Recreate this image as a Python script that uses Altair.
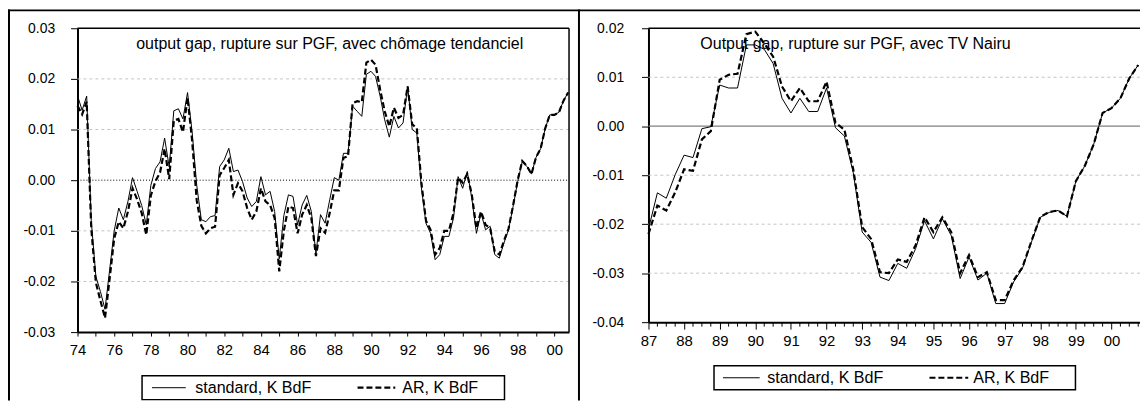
import altair as alt
import pandas as pd

# ---------------- data ----------------
SERIES = ["standard, K BdF", "AR, K BdF"]
LEFT_NOTE = "output gap, rupture sur PGF, avec chômage tendanciel"
RIGHT_NOTE = "Output gap, rupture sur PGF, avec TV Nairu"

LEFT_START = 1974.0   # quarterly, 1974Q1 .. 2000Q4
LEFT_STANDARD = [
    0.0167, 0.0138, 0.0166, -0.0080, -0.0190, -0.0220, -0.0255, -0.0178,
    -0.0100, -0.0055, -0.0078, -0.0042, 0.0005, -0.0022, -0.0050, -0.0088,
    -0.0010, 0.0023, 0.0036, 0.0083, 0.0026, 0.0137, 0.0141, 0.0121,
    0.0173, 0.0095, -0.0010, -0.0078, -0.0082, -0.0072, -0.0070, 0.0027,
    0.0040, 0.0063, 0.0017, 0.0020, -0.0003, -0.0035, -0.0052, -0.0042,
    0.0007, -0.0029, -0.0022, -0.0062, -0.0155, -0.0070, -0.0029, -0.0032,
    -0.0088, -0.0049, -0.0030, -0.0062, -0.0145, -0.0068, -0.0085, -0.0039,
    0.0005, 0.0000, 0.0053, 0.0053, 0.0146, 0.0136, 0.0126, 0.0209,
    0.0215, 0.0205, 0.0166, 0.0119, 0.0085, 0.0126, 0.0103, 0.0113,
    0.0185, 0.0100, 0.0093, -0.0015, -0.0085, -0.0105, -0.0157, -0.0147,
    -0.0111, -0.0111, -0.0075, 0.0007, -0.0016, 0.0017, -0.0036, -0.0105,
    -0.0065, -0.0098, -0.0091, -0.0147, -0.0154, -0.0124, -0.0098, -0.0052,
    -0.0003, 0.0037, 0.0027, 0.0012, 0.0045, 0.0062, 0.0102, 0.0129,
    0.0129, 0.0134, 0.0157, 0.0173,
]
LEFT_AR = [
    0.0147, 0.0130, 0.0155, -0.0095, -0.0202, -0.0238, -0.0272, -0.0195,
    -0.0115, -0.0082, -0.0095, -0.0062, -0.0016, -0.0038, -0.0065, -0.0108,
    -0.0030, -0.0002, 0.0015, 0.0062, 0.0002, 0.0118, 0.0121, 0.0095,
    0.0163, 0.0078, -0.0040, -0.0090, -0.0105, -0.0095, -0.0092, 0.0010,
    0.0024, 0.0040, -0.0029, -0.0006, -0.0022, -0.0055, -0.0078, -0.0062,
    -0.0016, -0.0042, -0.0049, -0.0075, -0.0180, -0.0100, -0.0052, -0.0055,
    -0.0105, -0.0068, -0.0049, -0.0075, -0.0150, -0.0095, -0.0104, -0.0065,
    -0.0020, -0.0020, 0.0044, 0.0047, 0.0152, 0.0156, 0.0154, 0.0232,
    0.0238, 0.0228, 0.0179, 0.0136, 0.0106, 0.0143, 0.0123, 0.0129,
    0.0185, 0.0110, 0.0103, -0.0005, -0.0080, -0.0098, -0.0147, -0.0134,
    -0.0100, -0.0100, -0.0065, 0.0005, -0.0005, 0.0012, -0.0029, -0.0095,
    -0.0062, -0.0088, -0.0095, -0.0141, -0.0147, -0.0120, -0.0096, -0.0050,
    0.0000, 0.0038, 0.0028, 0.0012, 0.0045, 0.0062, 0.0102, 0.0129,
    0.0129, 0.0134, 0.0157, 0.0173,
]

RIGHT_START = 1987.0  # quarterly, 1987Q1 .. 2000Q4
RIGHT_STANDARD = [
    -0.0210, -0.0136, -0.0147, -0.0099, -0.0059, -0.0064, -0.0005, -0.0001,
    0.0084, 0.0078, 0.0078, 0.0166, 0.0166, 0.0157, 0.0128, 0.0057,
    0.0027, 0.0057, 0.0030, 0.0030, 0.0078, -0.0003, -0.0020, -0.0095,
    -0.0216, -0.0237, -0.0308, -0.0315, -0.0280, -0.0290, -0.0250, -0.0193,
    -0.0230, -0.0189, -0.0223, -0.0311, -0.0267, -0.0314, -0.0300, -0.0362,
    -0.0362, -0.0318, -0.0290, -0.0237, -0.0186, -0.0176, -0.0172, -0.0184,
    -0.0112, -0.0081, -0.0037, 0.0027, 0.0037, 0.0057, 0.0098, 0.0125,
]
RIGHT_AR = [
    -0.0220, -0.0162, -0.0172, -0.0135, -0.0088, -0.0091, -0.0027, -0.0010,
    0.0095, 0.0105, 0.0107, 0.0188, 0.0193, 0.0169, 0.0142, 0.0081,
    0.0051, 0.0078, 0.0051, 0.0051, 0.0091, 0.0007, -0.0007, -0.0088,
    -0.0206, -0.0230, -0.0298, -0.0300, -0.0272, -0.0277, -0.0243, -0.0186,
    -0.0216, -0.0186, -0.0216, -0.0300, -0.0263, -0.0308, -0.0298, -0.0355,
    -0.0355, -0.0315, -0.0288, -0.0235, -0.0185, -0.0175, -0.0172, -0.0184,
    -0.0112, -0.0081, -0.0037, 0.0027, 0.0037, 0.0057, 0.0098, 0.0125,
]

LEFT_Y_TICKS = [-0.03, -0.02, -0.01, 0.0, 0.01, 0.02, 0.03]
RIGHT_Y_TICKS = [-0.04, -0.03, -0.02, -0.01, 0.0, 0.01, 0.02]
LEFT_YEARS = list(range(1974, 2001))
RIGHT_YEARS = list(range(1987, 2001))

# ---------------- layout / style ----------------
FONT = "Liberation Sans"
W, H = 1140, 394
YTICK_FS = 14
XTICK_FS = 15
NOTE_FS = 16.1
LEG_FS = 16.2

Y_LABEL = "(datum.value < 0 ? '-' : '') + format(abs(datum.value), '.2f')"


def series_df(vals, start):
    return pd.DataFrame({"t": [start + i / 4 for i in range(len(vals))], "v": vals})


def panel(std, ar, start, xdom, x0, x1, ydom, yticks, ytop, ybot, years,
          xlabel_expr, xtick, xpad, ypad, zero_style, note, note_x, minor):
    xs = alt.Scale(domain=xdom, range=[x0, x1], nice=False, zero=False)
    ys = alt.Scale(domain=ydom, range=[ybot, ytop], nice=False, zero=False)

    xaxis = alt.Axis(values=years, orient="bottom", offset=ybot - H, format="d",
                     labelExpr=xlabel_expr, labelFont=FONT, labelFontSize=XTICK_FS,
                     labelColor="black", labelPadding=xpad, labelOverlap=False,
                     labelFlush=False, tickSize=xtick, tickColor="black", tickWidth=1,
                     domainColor="black", domainWidth=2, grid=False, title=None)
    yaxis = alt.Axis(values=yticks, orient="left", offset=-x0, labelExpr=Y_LABEL,
                     labelFont=FONT, labelFontSize=YTICK_FS, labelColor="black",
                     labelPadding=ypad, labelOverlap=False, labelFlush=False,
                     tickSize=7, tickColor="black", tickWidth=1, domainColor="black",
                     domainWidth=2, grid=False, title=None)

    gridvals = [v for v in yticks if v not in (min(yticks), max(yticks), 0.0)]
    grid = alt.Chart(pd.DataFrame({"g": gridvals})).mark_rule(
        color="#c4c4c4", strokeDash=[3, 3], strokeWidth=1
    ).encode(y=alt.Y("g:Q", scale=ys, axis=None), x=alt.value(x0), x2=alt.value(x1))

    zero = alt.Chart(pd.DataFrame({"z": [0.0]})).mark_rule(**zero_style).encode(
        y=alt.Y("z:Q", scale=ys, axis=None), x=alt.value(x0), x2=alt.value(x1))

    top = alt.Chart().mark_rule(color="black", strokeWidth=1.5).encode(
        x=alt.value(x0), x2=alt.value(x1), y=alt.value(ytop))

    line_std = alt.Chart(series_df(std, start)).mark_line(
        color="black", strokeWidth=1
    ).encode(x=alt.X("t:Q", scale=xs, axis=xaxis), y=alt.Y("v:Q", scale=ys, axis=yaxis))

    line_ar = alt.Chart(series_df(ar, start)).mark_line(
        color="black", strokeWidth=2.2, strokeDash=[6, 3]
    ).encode(x=alt.X("t:Q", scale=xs, axis=None), y=alt.Y("v:Q", scale=ys, axis=None))

    text = alt.Chart().mark_text(
        text=note, font=FONT, fontSize=NOTE_FS, align="center", baseline="middle",
        color="black"
    ).encode(x=alt.value(note_x), y=alt.value(ytop + 15.5))

    layers = [grid, zero, top, line_std, line_ar, text]
    if minor:
        qs = [y + q / 4 for y in years for q in (1, 2, 3) if y + q / 4 < xdom[1]]
        mt = alt.Chart(pd.DataFrame({"m": qs})).mark_rule(color="black", strokeWidth=1).encode(
            x=alt.X("m:Q", scale=xs, axis=None), y=alt.value(ybot), y2=alt.value(ybot + 4.5))
        layers.append(mt)
    else:
        right = alt.Chart().mark_rule(color="black", strokeWidth=1.5).encode(
            x=alt.value(x1), y=alt.value(ytop), y2=alt.value(ybot))
        layers.append(right)
    return layers


def legend(bx0, bx1, by0, by1, s1x, t1x, s2x, t2x):
    yc = (by0 + by1) / 2
    box = alt.Chart().mark_rect(fill="white", stroke="black", strokeWidth=1.5).encode(
        x=alt.value(bx0), x2=alt.value(bx1), y=alt.value(by0), y2=alt.value(by1))
    s1 = alt.Chart().mark_rule(color="black", strokeWidth=1).encode(
        x=alt.value(s1x[0]), x2=alt.value(s1x[1]), y=alt.value(yc))
    s2 = alt.Chart().mark_rule(color="black", strokeWidth=2.2, strokeDash=[6, 3]).encode(
        x=alt.value(s2x[0]), x2=alt.value(s2x[1]), y=alt.value(yc))
    l1 = alt.Chart().mark_text(text=SERIES[0], font=FONT, fontSize=LEG_FS, align="left",
                               baseline="middle", color="black").encode(
        x=alt.value(t1x), y=alt.value(yc + 0.5))
    l2 = alt.Chart().mark_text(text=SERIES[1], font=FONT, fontSize=LEG_FS, align="left",
                               baseline="middle", color="black").encode(
        x=alt.value(t2x), y=alt.value(yc + 0.5))
    return [box, s1, s2, l1, l2]


left = panel(LEFT_STANDARD, LEFT_AR, LEFT_START, [1974.0, 2000.8], 70, 565,
             [-0.03, 0.03], LEFT_Y_TICKS, 19, 325, LEFT_YEARS,
             "datum.value % 2 == 0 ? slice(datum.label, 2) : ''", 4, 7, 16,
             dict(color="black", strokeDash=[1, 2], strokeWidth=1),
             LEFT_NOTE, 324, minor=False)

right = panel(RIGHT_STANDARD, RIGHT_AR, RIGHT_START, [1987.0, 2000.8], 645, 1140,
              [-0.04, 0.02], RIGHT_Y_TICKS, 19, 315, RIGHT_YEARS,
              "slice(datum.label, 2)", 7, 4, 18,
              dict(color="#808080", strokeWidth=1.3),
              RIGHT_NOTE, 853.5, minor=True)

frame = [
    alt.Chart().mark_rule(color="black", strokeWidth=2).encode(
        x=alt.value(0), x2=alt.value(W), y=alt.value(1)),
    alt.Chart().mark_rule(color="black", strokeWidth=2).encode(
        x=alt.value(1), y=alt.value(0), y2=alt.value(H)),
    alt.Chart().mark_rule(color="black", strokeWidth=2).encode(
        x=alt.value(575), y=alt.value(0), y2=alt.value(H)),
]

deco = frame + legend(135, 500, 369, 393, (145, 179), 188.5, (352, 390), 397) \
    + legend(711, 1075, 359, 383, (720, 757), 764.5, (928, 967), 972)

chart = alt.layer(*left, *right, *deco).resolve_scale(
    x="independent", y="independent"
).resolve_axis(
    x="independent", y="independent"
).properties(
    width=W, height=H, autosize=alt.AutoSizeParams(type="none"), padding=0
).configure_view(stroke=None)

chart.save("out.html", embed_options={"renderer": "svg", "actions": False})
